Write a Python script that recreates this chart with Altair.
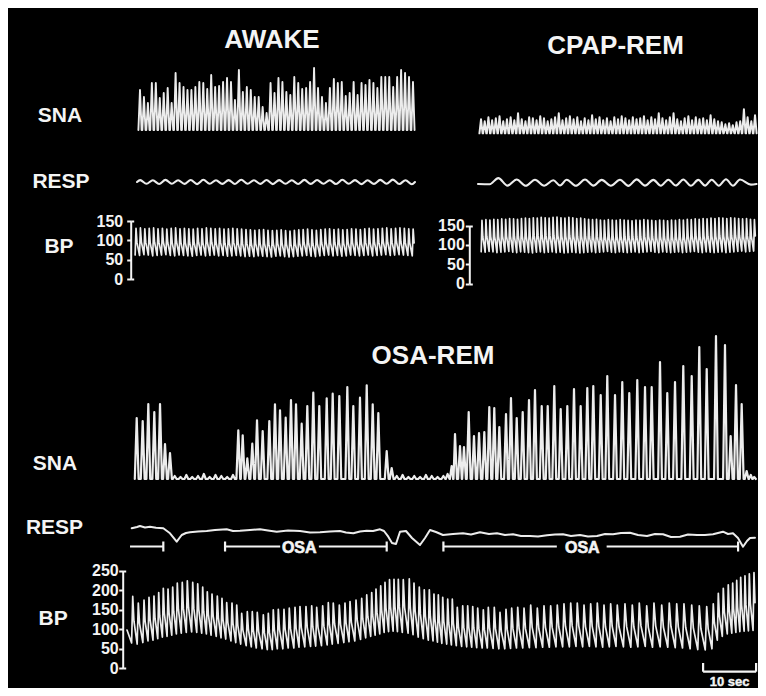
import altair as alt
import pandas as pd

FONT = "Liberation Sans, Arial, Helvetica, sans-serif"
INK = "#ececec"
TEXT = "#f4f4f4"
BG = "#000000"

# ---------------- AWAKE ----------------
AWAKE_SNA_START = 1.13      # s, first burst
AWAKE_SNA_PERIOD = 0.7465   # s, burst interval
AWAKE_SNA_PEAKS = [40, 33, 27, 47, 47, 32, 37, 42, 27, 57, 47, 43, 40, 40, 43, 48, 47, 41, 55, 43,
                   44, 48, 52, 48, 30, 60, 38, 43, 40, 33, 33, 23, 17, 47, 37, 52, 48, 38, 35, 53,
                   47, 41, 42, 48, 62, 42, 33, 27, 42, 51, 47, 48, 34, 37, 48, 35, 47, 45, 50, 47,
                   42, 53, 53, 53, 43, 53, 60, 57, 53, 48]
AWAKE_RESP_START = 0.57
AWAKE_RESP_PERIOD = 2.384
AWAKE_RESP_PEAKS = [1.9, 1.7, 2.1, 1.8, 2.0, 2.2, 1.7, 1.9, 2.3, 1.8, 2.0, 1.9, 1.7, 2.1, 2.0, 1.8,
                    2.2, 1.9, 1.7, 2.1, 2.4, 1.8]
AWAKE_RESP_TROUGHS = [-1.8, -2.0, -1.7, -1.9, -2.1, -1.8, -1.9, -2.0, -1.7, -1.9, -2.1, -1.8, -2.0,
                      -1.9, -1.7, -2.0, -1.8, -2.1, -1.9, -1.8, -2.0, -2.3]
AWAKE_BP_START = 0.38
AWAKE_BP_PERIOD = 0.83
AWAKE_BP_SYS = [131, 132, 130, 131, 132, 130, 131, 129, 131, 132, 130, 131, 130, 129, 131, 130,
                132, 131, 130, 131, 129, 130, 131, 130, 129, 128, 127, 126, 127, 128, 126, 125,
                126, 127, 125, 124, 126, 127, 128, 129, 127, 126, 128, 129, 130, 128, 129, 127,
                128, 130, 129, 128, 130, 131, 129, 130, 131, 132, 130, 131, 132, 131, 130, 129]
AWAKE_BP_DIA = [62, 61, 63, 62, 60, 61, 62, 63, 61, 60, 62, 61, 60, 59, 61, 62, 60, 61, 62, 60,
                61, 59, 60, 61, 60, 58, 59, 58, 60, 59, 58, 57, 59, 60, 58, 57, 58, 59, 60, 61,
                59, 58, 60, 61, 62, 60, 61, 59, 60, 62, 61, 60, 61, 62, 60, 61, 62, 63, 61, 62,
                63, 62, 61, 60]

# ---------------- CPAP-REM ----------------
CPAP_SNA_START = 0.57
CPAP_SNA_PERIOD = 0.6986
CPAP_SNA_PEAKS = [14, 12, 16, 13, 15, 17, 12, 14, 16, 13, 20, 14, 12, 16, 15, 13, 17, 15, 12, 14,
                  16, 20, 13, 15, 17, 14, 16, 12, 15, 13, 18, 14, 16, 13, 15, 12, 16, 14, 17, 15,
                  13, 16, 14, 15, 17, 13, 16, 14, 20, 15, 13, 16, 20, 14, 12, 15, 17, 13, 16, 14,
                  15, 13, 18, 14, 12, 11, 9, 10, 8, 11, 12, 24, 16, 12, 18]
CPAP_RESP_T = [3.83, 7.30, 10.75, 14.21, 16.74, 20.19, 23.34, 26.79, 29.94, 33.08, 35.91, 38.74,
               41.57, 44.09, 46.79, 49.43]
CPAP_RESP_PEAKS = [4.9, 3.5, 3.3, 2.8, 3.3, 3.5, 3.1, 3.3, 3.6, 3.1, 3.3, 3.5, 3.1, 3.3, 3.8, 3.5]
CPAP_RESP_TROUGHS = [-2.6, -2.8, -2.7, -2.5, -2.8, -2.6, -2.7, -2.9, -2.6, -2.7, -2.5, -2.8, -2.6,
                     -2.7, -2.8]
CPAP_RESP_ENDS = [(0.0, -1.0), (2.2, -1.2), (51.5, -1.6), (52.55, -1.0)]
CPAP_BP_START = 0.75
CPAP_BP_PERIOD = 0.745
CPAP_BP_SYS = [163, 165, 164, 166, 165, 167, 166, 168, 167, 166, 168, 169, 168, 170, 169, 171,
               170, 169, 171, 172, 170, 169, 171, 170, 168, 169, 167, 166, 165, 166, 164, 163,
               165, 164, 163, 165, 164, 163, 162, 164, 163, 165, 164, 163, 162, 164, 163, 162,
               164, 163, 165, 164, 166, 165, 167, 166, 168, 167, 169, 168, 170, 169, 168, 170,
               169, 168, 167, 168, 166, 165]
CPAP_BP_DIA = [82, 81, 83, 82, 80, 81, 82, 83, 81, 80, 82, 81, 80, 79, 81, 82, 80, 81, 82, 80,
               81, 79, 80, 81, 80, 79, 80, 81, 82, 80, 81, 82, 83, 81, 80, 82, 81, 80, 81, 82,
               80, 81, 82, 83, 81, 80, 82, 81, 80, 81, 82, 80, 81, 82, 83, 81, 80, 82, 81, 80,
               81, 82, 80, 81, 82, 83, 84, 82, 83, 84]

# ---------------- OSA-REM ----------------
OSA_SNA_T = [1.83, 2.96, 4.02, 5.15, 6.23, 7.17, 8.11,
             9.0, 10.1, 11.2, 12.3, 13.4, 14.5, 15.6, 16.7, 17.8, 18.9, 20.0,
             21.0, 21.83, 22.7, 23.64, 24.53, 25.6, 26.85, 27.92, 28.87, 29.94, 30.94, 31.89,
             32.96, 34.02, 35.15, 36.28, 37.68, 38.81, 40.06, 41.57, 42.7, 43.96, 45.23, 46.36,
             47.42, 49.0, 49.94,
             50.9, 52.0, 53.1, 54.2, 55.3, 56.4, 57.5, 58.6, 59.7, 60.5,
             61.26, 61.89, 62.83, 63.58, 64.47, 65.47, 66.42, 67.42, 68.36, 69.3, 70.25, 71.51,
             72.45, 73.53, 74.66, 75.85, 76.98, 78.25, 79.38, 80.62, 81.83, 83.08, 84.34, 85.6,
             86.85, 87.98, 89.38, 90.62, 92.08, 93.45, 94.77, 96.28, 97.74, 99.0, 100.57, 101.94,
             103.4, 104.96, 106.55, 107.98, 109.38, 111.13, 112.83, 113.9, 114.91, 115.98, 116.92,
             117.7, 118.35]
OSA_SNA_H = [61, 58, 75, 67, 75, 35, 26,
             3, 2, 4, 2, 3, 5, 2, 4, 3, 2, 4,
             48.7, 43.7, 20.7, 35.3, 58.7, 48, 58, 74.7, 68.7, 61.3, 79, 74.7,
             55.3, 73, 86.3, 73, 80.7, 85.3, 83, 92, 73, 81.3, 93.7, 74.7,
             66, 28, 11,
             3, 4, 2, 3, 2, 4, 3, 2, 3, 5,
             13, 45, 33, 32, 67, 43, 46, 47, 72, 71, 52, 65,
             81, 61, 67, 79, 89, 73, 73, 93, 70, 73, 90, 73,
             91, 93, 84, 103, 84, 97, 86, 99, 92, 92, 117, 86,
             97, 113, 103, 132, 110, 143, 134, 43, 94, 75, 8,
             4, 2]
OSA_RESP_T = [0.89, 1.89, 2.45, 3.40, 4.34, 5.47, 6.85, 8.11, 9.38, 10.32, 11.13, 11.89, 13.40,
              15.04, 16.60, 18.81, 20.0, 21.32, 23.21, 25.09, 26.60, 28.25, 30.38, 32.64, 34.53,
              36.42, 38.30, 40.19, 41.32, 42.70, 43.96, 45.23, 46.42, 47.74, 48.49, 49.30, 50.0,
              50.75, 51.51, 52.64, 53.77, 55.28, 56.23, 57.17, 58.30, 59.62, 61.51, 63.40, 64.91,
              66.60, 68.30, 69.81, 71.32, 72.83, 74.34, 76.04, 77.55, 79.25, 80.75, 82.26, 83.77,
              85.47, 86.98, 88.68, 90.19, 91.70, 93.21, 94.91, 96.42, 98.11, 99.62, 101.13,
              102.64, 104.34, 105.85, 107.55, 109.06, 110.57, 111.51, 112.45, 113.40, 114.34,
              115.28, 116.23, 116.98, 117.55, 118.49]
OSA_RESP_V = [11.7, 13, 14, 12.5, 13.3, 12.2, 11.7, 6.7, -1.7, 5, 7, 7.7, 8.5,
              9, 10, 10.7, 9, 9.3, 10, 10.7, 9.5, 8.3, 9.5, 9, 7.5,
              7.7, 8.5, 9, 7.5, 6.7, 8.5, 9.3, 9, 10.7, 9, 3.3, -3,
              -4, 8.3, 9, 2, -5, 2, 10, 8, 5, 6, 6.7, 5.5,
              7.7, 6, 6.7, 5, 5.7, 4, 4, 3.5, 4.7, 5.5, 5.7, 4,
              5, 3.5, 4, 6, 5.7, 7, 7.3, 5, 4, 6, 5.7,
              3, 3.3, 5.5, 5, 5, 5.7, 7, 8.3, 6, 6.7,
              2, -6.7, -1, 2, 2.2]
OSA_BP_START = (0.0, 98)
OSA_BP_T = [1.08, 2.13, 3.21, 4.15, 5.09, 5.98, 6.85, 7.74, 8.62, 9.49,
            10.43, 11.38, 12.40, 13.34, 14.28, 15.15, 16.04, 17.04, 17.92, 18.81,
            19.81, 20.70, 21.64, 22.70, 23.64, 24.58, 25.72, 26.66, 27.60, 28.55,
            29.62, 30.62, 31.70, 32.64, 33.77, 34.85, 35.79, 36.92, 37.98, 38.92,
            40.06, 41.13, 42.08, 43.21, 44.28, 45.23, 46.17, 46.98, 47.87, 48.68,
            49.53, 50.38, 51.19, 52.13, 53.26, 54.15, 55.15, 56.09, 57.04, 57.92,
            58.74, 59.57, 60.51, 61.38, 62.32, 63.34, 64.28, 65.23, 66.17, 67.23,
            68.17, 69.30, 70.38, 71.51, 72.58, 73.72, 74.91, 76.17, 77.42, 78.68,
            79.94, 81.19, 82.45, 83.72, 84.96, 86.23, 87.49, 88.74, 90.00, 91.26,
            92.51, 93.96, 95.34, 96.66, 98.06, 99.43, 100.89, 102.32, 103.72, 105.09,
            106.55, 107.98, 109.38, 110.62, 111.57, 112.51, 113.45, 114.28, 115.04, 115.79,
            116.60, 117.42, 118.30]
OSA_BP_SYS = [184, 167, 175, 182, 185, 194, 205, 203, 208, 218,
              220, 224, 220, 216, 208, 196, 190, 185, 179, 168,
              167, 162, 141, 145, 145, 143, 137, 141, 150, 151,
              151, 154, 156, 158, 158, 160, 156, 160, 168, 167,
              162, 167, 171, 175, 179, 188, 194, 203, 211, 220,
              227, 228, 228, 227, 229, 218, 208, 201, 201, 190,
              188, 182, 177, 177, 156, 160, 160, 158, 154, 150,
              156, 156, 143, 151, 154, 156, 154, 162, 154, 160,
              160, 162, 165, 167, 167, 162, 165, 167, 162, 165,
              162, 165, 162, 167, 160, 167, 162, 167, 165, 165,
              162, 160, 158, 165, 192, 205, 214, 218, 225, 233,
              237, 242, 245]
OSA_BP_DIA = [65, 62, 66, 70, 72, 76, 80, 82, 85, 88,
              90, 92, 93, 92, 90, 88, 85, 82, 78, 75,
              70, 66, 62, 58, 55, 52, 50, 48, 48, 50,
              50, 52, 52, 54, 55, 56, 57, 58, 60, 62,
              64, 66, 68, 70, 74, 78, 82, 85, 88, 92,
              94, 95, 94, 92, 90, 86, 80, 76, 72, 70,
              67, 64, 62, 60, 58, 56, 55, 54, 53, 52,
              52, 51, 50, 50, 51, 52, 52, 53, 53, 54,
              54, 55, 55, 55, 56, 55, 56, 55, 54, 55,
              56, 55, 54, 55, 56, 54, 55, 54, 53, 52,
              50, 48, 47, 50, 72, 82, 88, 90, 92, 94,
              95, 96, 97]
OSA_BAR_START = [0.57, 18.5, 36.2, 59.7, 90.5]
OSA_BAR_END = [6.85, 28.9, 49.0, 81.1, 115.3]
OSA_BAR_TICKS = [6.85, 18.5, 49.0, 59.7, 115.3]
OSA_LABEL_T = [32.5, 85.9]
OSA_LABEL = ["OSA", "OSA"]
SCALE_START = 108.7
SCALE_LEN = 10
SCALE_LABEL = "10 sec"

# ---------------- layout (pixels inside the single plot area) ----------------
W, H = 623, 608.3
AWAKE_X = ([0, 53.02], [0, 281])
CPAP_X = ([0, 52.64], [344, 623])
OSA_X = ([1.32, 118.87], [0, 623])
Y_AW_SNA = ([-20, 70], [90, 0])
Y_AW_RESP = ([-39, 32], [161, 90])
Y_AW_BP = ([0, 150], [219, 161])
Y_CP_SNA = ([-16.7, 73.3], [90, 0])
Y_CP_RESP = ([-42.5, 33], [165.5, 90])
Y_CP_BP = ([0, 150], [223.5, 165.5])
Y_OS_SNA = ([-21, 179], [440, 240])
Y_OS_RESP = ([-30.7, 40], [510.7, 440])
Y_OS_BP = ([0, 250], [608.3, 510.7])


def frame(pts):
    return pd.DataFrame({"t": [p[0] for p in pts], "v": [p[1] for p in pts],
                         "i": list(range(len(pts)))})


def spike_trace(times, heights, half=0.36):
    pts = []
    n = len(times)
    for k in range(n):
        gl = times[k] - times[k - 1] if k > 0 else times[1] - times[0]
        gr = times[k + 1] - times[k] if k < n - 1 else gl
        wl = min(half, 0.45 * gl)
        wr = min(half, 0.45 * gr)
        pts += [(times[k] - wl, 0.0), (times[k], heights[k]), (times[k] + wr, 0.0)]
    return frame(pts)


def pulse_trace(times, sys, dia, start=None):
    pts = [start] if start else []
    n = len(times)
    for k in range(n):
        gl = times[k] - times[k - 1] if k > 0 else times[1] - times[0]
        gr = times[k + 1] - times[k] if k < n - 1 else gl
        nxt = dia[k + 1] if k < n - 1 else dia[k]
        pts += [(times[k] - 0.2 * gl, dia[k]), (times[k], sys[k]),
                (times[k] + 0.22 * gr, nxt + 0.48 * (sys[k] - nxt))]
    return frame(pts)


def wave_trace(times, peaks, troughs, ends):
    pts = [ends[0], ends[1]]
    for k in range(len(times)):
        pts.append((times[k], peaks[k]))
        if k < len(times) - 1:
            pts.append(((times[k] + times[k + 1]) / 2, troughs[k]))
    pts += [ends[2], ends[3]]
    return frame(pts)


def regular(start, period, n):
    return [start + k * period for k in range(n)]


def sc(d):
    return alt.Scale(domain=d[0], range=d[1], nice=False, zero=False)


def label_axis(title, tx, ty):
    return alt.Axis(orient="left", title=title, domain=False, ticks=False, labels=False,
                    grid=False, titleAngle=0, titleX=tx, titleY=ty, titleAlign="center",
                    titleBaseline="middle", titleFont=FONT, titleFontSize=21,
                    titleFontWeight="bold", titleColor=TEXT)


def title_axis(text, tx, ty):
    return alt.Axis(orient="top", title=text, domain=False, ticks=False, labels=False,
                    grid=False, titleAngle=0, titleX=tx, titleY=ty, titleAlign="center",
                    titleBaseline="alphabetic", titleFont=FONT, titleFontSize=26,
                    titleFontWeight="bold", titleColor=TEXT)


def bp_axis(ticks, off, lpad, title=None, tx=0, ty=0):
    kw = dict(orient="left", values=ticks, domain=True, domainColor=TEXT, domainWidth=2,
              ticks=True, tickColor=TEXT, tickWidth=2, tickSize=4, labels=True,
              labelColor=TEXT, labelFont=FONT, labelFontSize=16, labelFontWeight="bold",
              labelPadding=lpad, grid=False, offset=off)
    if title:
        kw.update(title=title, titleAngle=0, titleX=tx, titleY=ty, titleAlign="center",
                  titleBaseline="middle", titleFont=FONT, titleFontSize=21,
                  titleFontWeight="bold", titleColor=TEXT)
    else:
        kw.update(title=None)
    return alt.Axis(**kw)


def bracket_axis(top, pos):
    # right-pointing end ticks of the bracket-shaped BP scale
    return alt.Axis(orient="right", values=[0, top], domain=False, labels=False, ticks=True,
                    tickColor=TEXT, tickWidth=2, tickSize=3, grid=False,
                    offset=-(W - pos), title=None)


def trace(df, xs, ys, yaxis=None, xaxis=None, interp="linear", sw=2.0, opacity=1.0):
    return alt.Chart(df).mark_line(
        color=INK, strokeWidth=sw, interpolate=interp, strokeJoin="round",
        strokeCap="round", strokeOpacity=opacity
    ).encode(
        x=alt.X("t:Q", scale=sc(xs), axis=xaxis),
        y=alt.Y("v:Q", scale=sc(ys), axis=yaxis),
        order="i:Q",
    )


layers = []

# ---- AWAKE ----
aw_sna_df = spike_trace(regular(AWAKE_SNA_START, AWAKE_SNA_PERIOD, len(AWAKE_SNA_PEAKS)),
                        AWAKE_SNA_PEAKS, half=0.3)
layers.append(trace(aw_sna_df, AWAKE_X, Y_AW_SNA, label_axis("SNA", -74.5, 55.5),
                    title_axis("AWAKE", 137.5, -13), sw=1.9))
aw_resp_pts = [(AWAKE_RESP_START, 0.0)]
for k in range(len(AWAKE_RESP_PEAKS)):
    base = AWAKE_RESP_START + k * AWAKE_RESP_PERIOD
    aw_resp_pts.append((base + AWAKE_RESP_PERIOD / 4, AWAKE_RESP_PEAKS[k]))
    aw_resp_pts.append((base + 3 * AWAKE_RESP_PERIOD / 4, AWAKE_RESP_TROUGHS[k]))
aw_resp_pts.append((AWAKE_RESP_START + len(AWAKE_RESP_PEAKS) * AWAKE_RESP_PERIOD, 0.0))
layers.append(trace(frame(aw_resp_pts), AWAKE_X, Y_AW_RESP, label_axis("RESP", -73.5, 121),
                    interp="monotone", sw=2.1))
aw_bp_df = pulse_trace(regular(AWAKE_BP_START, AWAKE_BP_PERIOD, len(AWAKE_BP_SYS)),
                       AWAKE_BP_SYS, AWAKE_BP_DIA)
layers.append(trace(aw_bp_df, AWAKE_X, Y_AW_BP,
                    bp_axis([0, 50, 100, 150], 3.3, 4, "BP", -72.2, 186.5), sw=1.7))
layers.append(trace(aw_bp_df, AWAKE_X, Y_AW_BP, bracket_axis(150, -3.3), opacity=0.0))

# ---- CPAP-REM ----
cp_sna_df = spike_trace(regular(CPAP_SNA_START, CPAP_SNA_PERIOD, len(CPAP_SNA_PEAKS)),
                        CPAP_SNA_PEAKS, half=0.3)
layers.append(trace(cp_sna_df, CPAP_X, Y_CP_SNA, None, title_axis("CPAP-REM", 481, -7), sw=2.0))
layers.append(trace(wave_trace(CPAP_RESP_T, CPAP_RESP_PEAKS, CPAP_RESP_TROUGHS, CPAP_RESP_ENDS),
                    CPAP_X, Y_CP_RESP, None, interp="monotone", sw=2.1))
cp_bp_df = pulse_trace(regular(CPAP_BP_START, CPAP_BP_PERIOD, len(CPAP_BP_SYS)),
                       CPAP_BP_SYS, CPAP_BP_DIA)
layers.append(trace(cp_bp_df, CPAP_X, Y_CP_BP, bp_axis([0, 50, 100, 150], -335.3, 1), sw=1.7))
layers.append(trace(cp_bp_df, CPAP_X, Y_CP_BP, bracket_axis(150, 335.3), opacity=0.0))

# ---- OSA-REM ----
layers.append(trace(spike_trace(OSA_SNA_T, OSA_SNA_H), OSA_X, Y_OS_SNA,
                    label_axis("SNA", -79.5, 403.5), title_axis("OSA-REM", 298.5, 303), sw=2.2))
layers.append(trace(frame(list(zip(OSA_RESP_T, OSA_RESP_V))), OSA_X, Y_OS_RESP,
                    label_axis("RESP", -80, 467.7), sw=2.0))
bars = pd.DataFrame({"s": OSA_BAR_START, "e": OSA_BAR_END})
bar_ticks = pd.DataFrame({"t": OSA_BAR_TICKS})
bar_labels = pd.DataFrame({"t": OSA_LABEL_T, "label": OSA_LABEL})
layers.append(alt.Chart(bars).mark_rule(color=TEXT, strokeWidth=2.2).encode(
    x=alt.X("s:Q", scale=sc(OSA_X), axis=None), x2="e:Q", y=alt.value(486.5)))
layers.append(alt.Chart(bar_ticks).mark_rule(color=TEXT, strokeWidth=2.2).encode(
    x=alt.X("t:Q", scale=sc(OSA_X), axis=None), y=alt.value(481.5), y2=alt.value(491.5)))
layers.append(alt.Chart(bar_labels).mark_text(
    color=TEXT, font=FONT, fontSize=16, fontWeight="bold", baseline="middle", align="center",
    stroke=TEXT, strokeWidth=0.6
).encode(x=alt.X("t:Q", scale=sc(OSA_X), axis=None), y=alt.value(487.5), text="label:N"))

os_bp_df = pulse_trace(OSA_BP_T, OSA_BP_SYS, OSA_BP_DIA, start=OSA_BP_START)
layers.append(trace(os_bp_df, OSA_X, Y_OS_BP,
                    bp_axis([0, 50, 100, 150, 200, 250], 11.3, 0.5, "BP", -70, 558.5), sw=1.7))
layers.append(trace(os_bp_df, OSA_X, Y_OS_BP, bracket_axis(250, -11.3), opacity=0.0))

scale_df = pd.DataFrame({"s": [SCALE_START], "e": [SCALE_START + SCALE_LEN],
                         "m": [SCALE_START + SCALE_LEN / 2], "label": [SCALE_LABEL]})
scale_ends = pd.DataFrame({"t": [SCALE_START, SCALE_START + SCALE_LEN]})
layers.append(alt.Chart(scale_df).mark_rule(color=TEXT, strokeWidth=2.2).encode(
    x=alt.X("s:Q", scale=sc(OSA_X), axis=None), x2="e:Q", y=alt.value(611.7)))
layers.append(alt.Chart(scale_ends).mark_rule(color=TEXT, strokeWidth=2.2).encode(
    x=alt.X("t:Q", scale=sc(OSA_X), axis=None), y=alt.value(603), y2=alt.value(611.7)))
layers.append(alt.Chart(scale_df).mark_text(
    color=TEXT, font=FONT, fontSize=13, fontWeight="bold", baseline="middle", align="center",
    stroke=TEXT, strokeWidth=0.4
).encode(x=alt.X("m:Q", scale=sc(OSA_X), axis=None), y=alt.value(622), text="label:N"))

chart = alt.layer(*layers).resolve_scale(x="independent", y="independent").resolve_axis(
    x="independent", y="independent"
).properties(
    width=W, height=H, background=BG,
    autosize=alt.AutoSizeParams(type="none"),
    padding={"left": 126, "top": 52, "right": 1, "bottom": 19.7},
).configure_view(strokeWidth=0)

chart.save("out.html", embed_options={"renderer": "svg", "actions": False})
